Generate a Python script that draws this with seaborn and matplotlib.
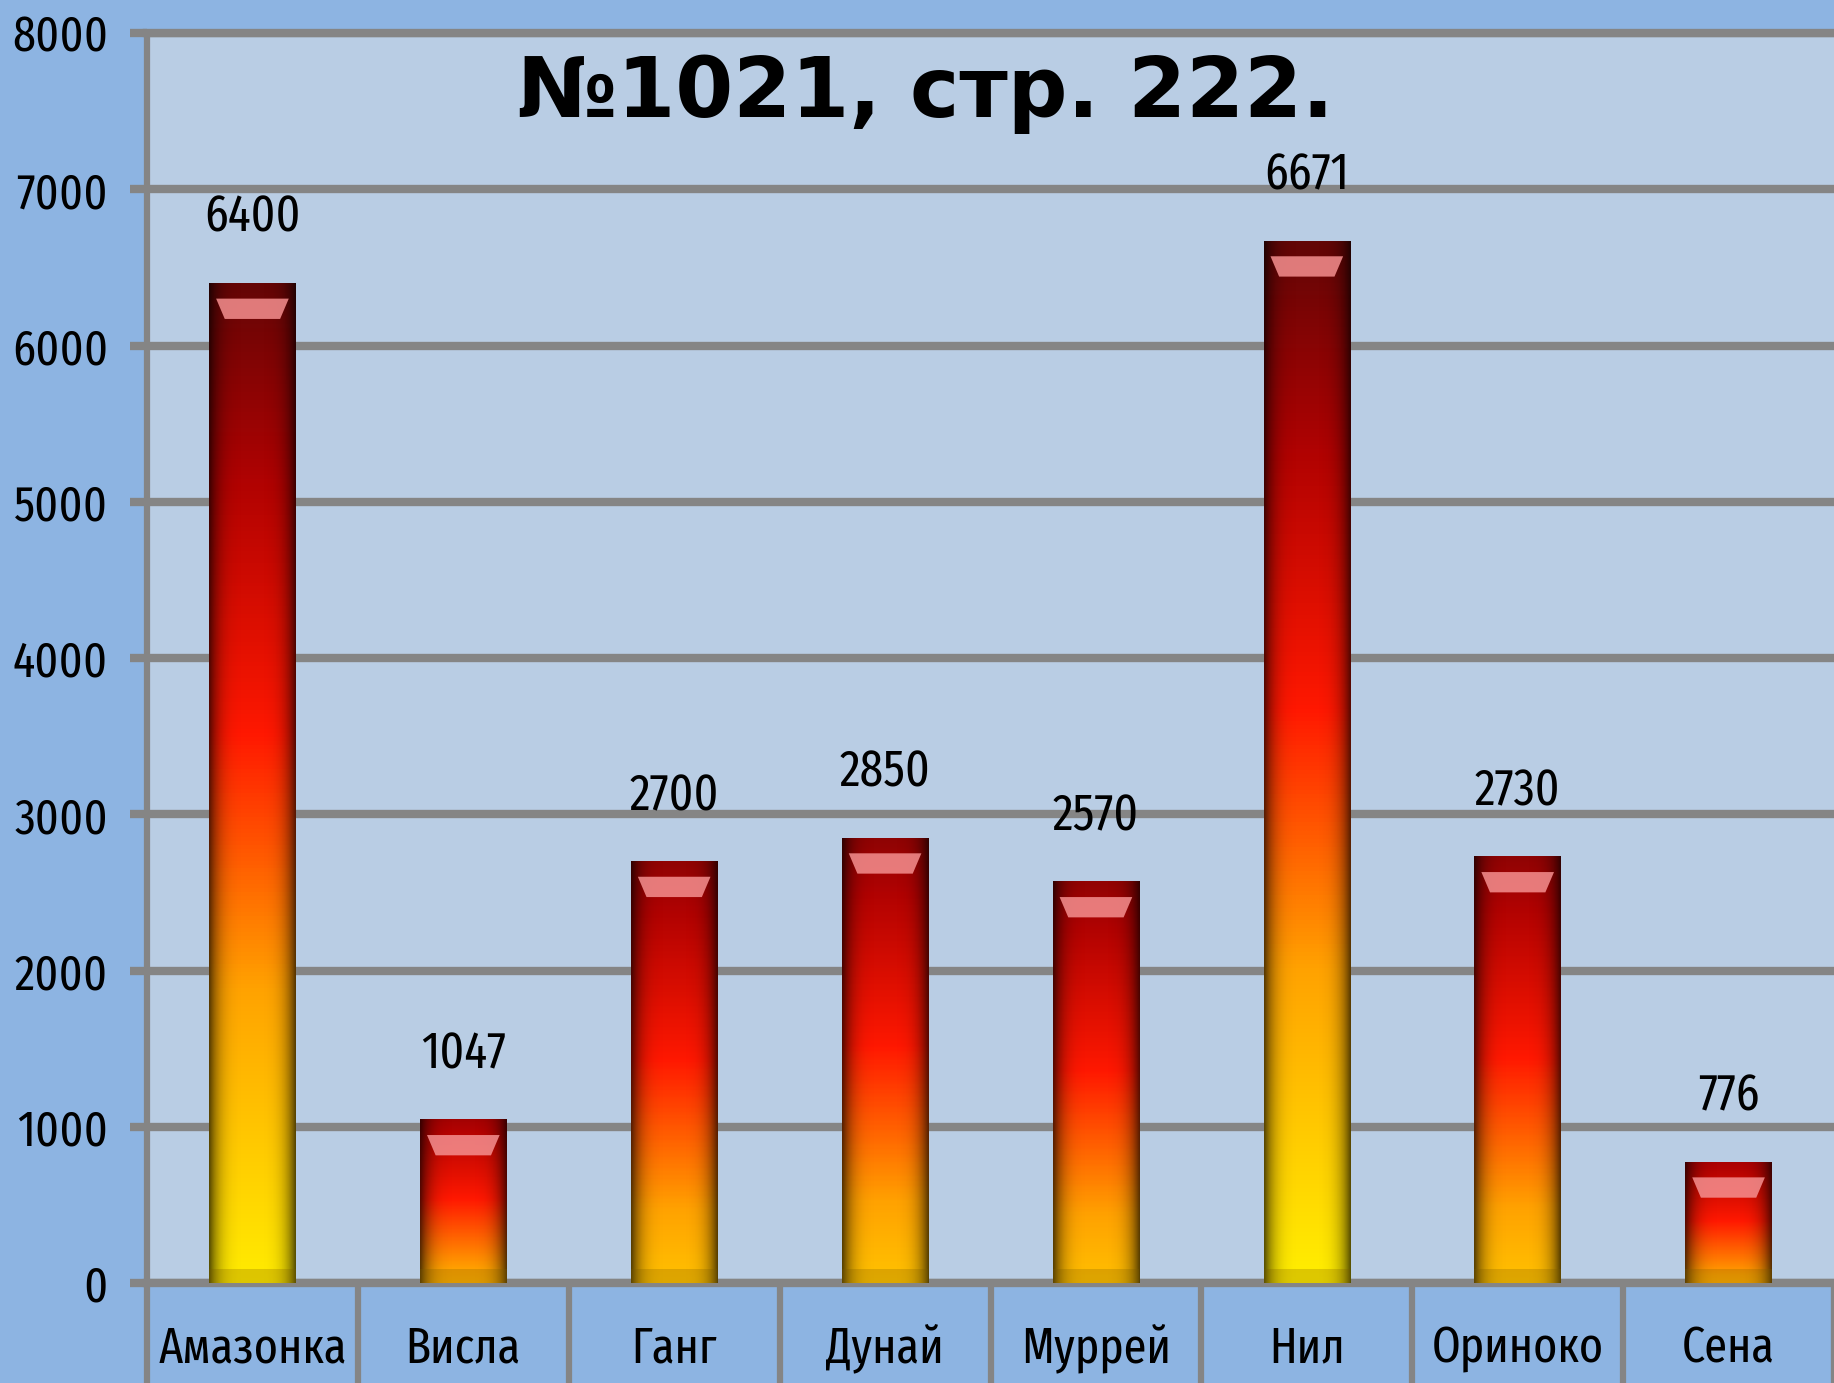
import numpy as np
import pandas as pd
import matplotlib
matplotlib.use('Agg')
import matplotlib.pyplot as plt
from matplotlib.colors import LinearSegmentedColormap
from matplotlib.patches import Polygon
import seaborn as sns

rivers = ['Амазонка', 'Висла', 'Ганг', 'Дунай', 'Муррей', 'Нил', 'Ориноко', 'Сена']
lengths = [6400, 1047, 2700, 2850, 2570, 6671, 2730, 776]
y_ticks = [0, 1000, 2000, 3000, 4000, 5000, 6000, 7000, 8000]
title_text = '№1021, стр. 222.'

sns.set_theme(style='white')
plt.rcParams['font.family'] = ['Fira Sans Extra Condensed', 'DejaVu Sans']

grid_col = '#858585'
fig = plt.figure(figsize=(18.34, 13.83), dpi=100)
fig.patch.set_facecolor('#8db4e2')
ax = fig.add_axes([147 / 1834, 100 / 1383, 1 - 147 / 1834, 1250 / 1383])
ax.set_facecolor('#b9cde4')

df = pd.DataFrame({'river': rivers, 'length': lengths})
sns.barplot(data=df, x='river', y='length', width=0.41, color='#ff2000',
            ax=ax, zorder=3, linewidth=0)

# gradient fill for each bar, yellow at the bottom to dark red on top
cmap = LinearSegmentedColormap.from_list('bar', [
    (0.0, '#ffee00'), (0.3, '#ffa200'), (0.55, '#ff1800'),
    (0.8, '#b00202'), (1.0, '#620606')])
hmax = max(lengths)
u = np.linspace(0, 1, 64)
side = np.zeros((1, 64, 4))
side[0, :, 3] = 0.65 * np.abs(2 * u - 1) ** 4
for p in ax.patches:
    x0, y0, w, h = p.get_x(), p.get_y(), p.get_width(), p.get_height()
    start = 0.3 * (1 - h / hmax)
    end = 0.8 + 0.2 * h / hmax
    grad = np.linspace(start, end, 256).reshape(-1, 1)
    im = ax.imshow(grad, cmap=cmap, vmin=0, vmax=1, extent=[x0, x0 + w, y0, y0 + h],
                   origin='lower', aspect='auto', zorder=3.1, interpolation='bilinear')
    im.set_clip_path(p)
    im2 = ax.imshow(side, extent=[x0, x0 + w, y0, y0 + h], aspect='auto',
                    zorder=3.2, interpolation='bilinear')
    im2.set_clip_path(p)
    top = y0 + h
    hl = Polygon([[x0 + 0.08 * w, top - 100], [x0 + 0.92 * w, top - 100],
                  [x0 + 0.82 * w, top - 230], [x0 + 0.18 * w, top - 230]],
                 closed=True, facecolor='#f59090', alpha=0.85, zorder=3.3, lw=0)
    ax.add_patch(hl)
    ax.add_patch(plt.Rectangle((x0, y0), w, 90, facecolor='#7a5a00', alpha=0.25,
                               zorder=3.3, lw=0))

ax.bar_label(ax.containers[0], labels=[str(v) for v in lengths], padding=29,
             fontsize=37, color='black')

ax.set_xlim(-0.5, len(rivers) - 0.5)
ax.set_ylim(0, 8000)
ax.set_yticks(y_ticks)
ax.set_axisbelow(True)
ax.yaxis.grid(True, color=grid_col, linewidth=6)
ax.xaxis.grid(False)

for s in ['top', 'bottom']:
    ax.spines[s].set_color(grid_col)
    ax.spines[s].set_linewidth(6)
ax.spines['left'].set_color(grid_col)
ax.spines['left'].set_linewidth(4.5)
ax.spines['right'].set_visible(False)

ax.tick_params(axis='y', left=True, length=12, width=6, color=grid_col,
               pad=16, labelsize=36, labelcolor='black')
ax.set_xticks(np.arange(len(rivers) + 1) - 0.5, minor=True)
ax.tick_params(axis='x', which='major', length=0, pad=30, labelsize=36,
               labelcolor='black')
ax.tick_params(axis='x', which='minor', bottom=True, length=80, width=4.5,
               color=grid_col, direction='out')

ax.text(3.19, 7460, title_text, ha='center', va='baseline', fontsize=60,
        fontweight='bold', family=['DejaVu Sans'], color='black', zorder=5)

ax.set_xlabel('')
ax.set_ylabel('')
fig.savefig('out.png', dpi=100, facecolor=fig.get_facecolor())
